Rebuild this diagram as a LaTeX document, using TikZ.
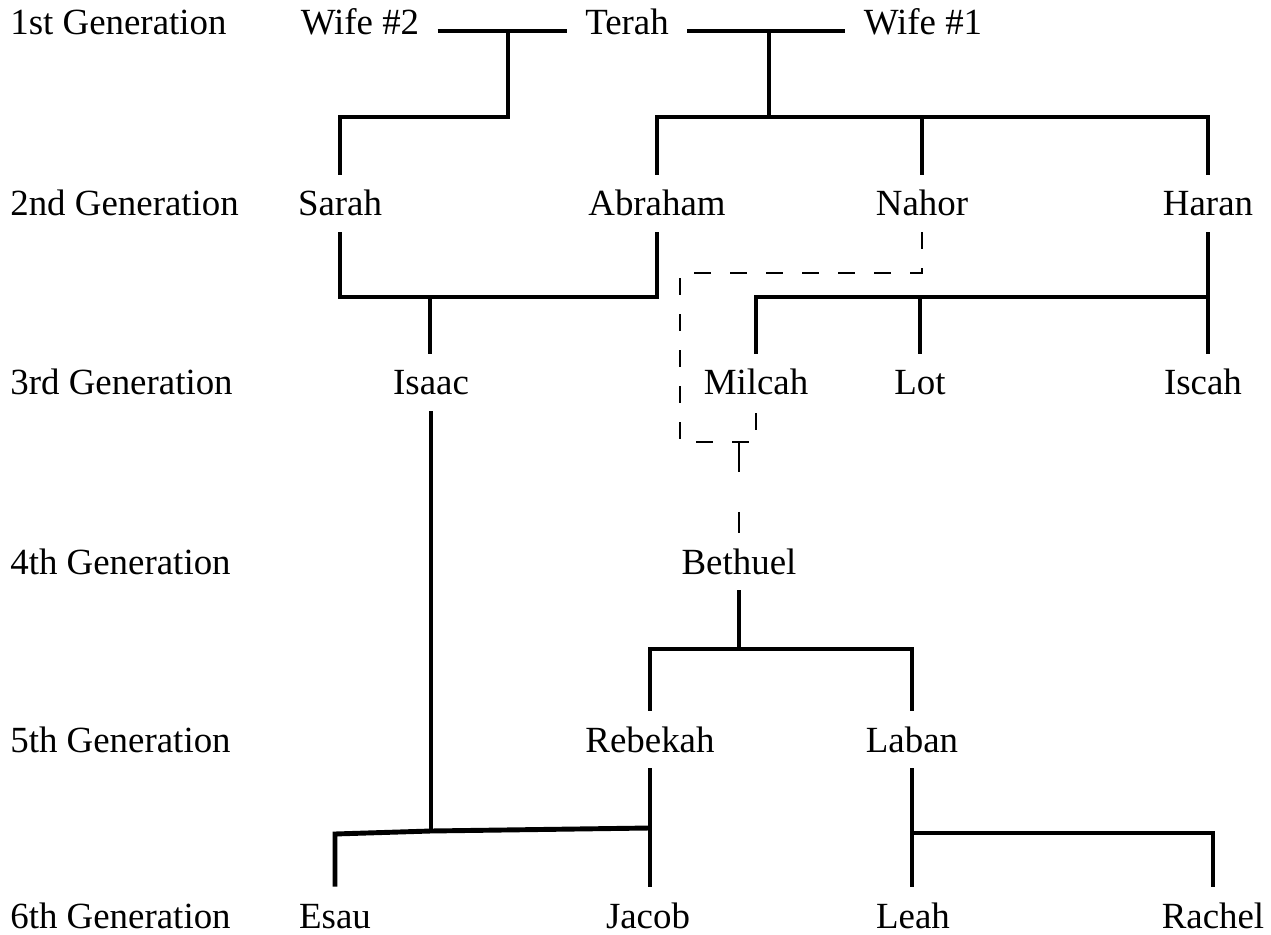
\documentclass[tikz,border=0pt]{standalone}
\usepackage{fontspec}
\setmainfont{Liberation Serif}
\usepackage{tikz}

\tikzset{
    person/.style={font=\fontsize{21}{25}\selectfont, anchor=base, inner xsep=0.36cm, inner ysep=0pt,
                   text height=0.82cm, text depth=0.32cm},
    leaf/.style={person, text depth=0pt},
    gen/.style={font=\fontsize{21}{25}\selectfont, anchor=base west, inner sep=0pt},
    line/.style={line width=2.8pt},
    kin/.style={line width=1.2pt, dash pattern=on 0.34cm off 0.38cm}
}

\begin{document}
\begin{tikzpicture}[x=0.02cm, y=-0.02cm]
    \useasboundingbox (0,0) rectangle (1271,935);

    % Generations
    \node [gen]     (g1)  at (10,35)    {1st Generation};
    \node [gen]     (g2)  at (10,216)   {2nd Generation};
    \node [gen]     (g3)  at (10,395)   {3rd Generation};
    \node [gen]     (g4)  at (10,574)   {4th Generation};
    \node [gen]     (g5)  at (10,752)   {5th Generation};
    \node [gen]     (g6)  at (10,928)   {6th Generation};

    % People {wife2, terah, wife1, sarah, etc}
    \node [person]  (wife2)    at (360,35)    {Wife \#2};
    \node [person]  (terah)    at (627,35)    {Terah};
    \node [person]  (wife1)    at (923,35)    {Wife \#1};
    \node [person]  (sarah)    at (340,216)   {Sarah};
    \node [person]  (abraham)  at (657,216)   {Abraham};
    \node [person]  (nahor)    at (922,216)   {Nahor};
    \node [person]  (haran)    at (1208,216)  {Haran};
    \node [person]  (isaac)    at (431,395)   {Isaac};
    \node [person]  (milcah)   at (756,395)   {Milcah};
    \node [person]  (lot)      at (920,395)   {Lot};
    \node [person]  (iscah)    at (1203,395)  {Iscah};
    \node [person]  (bethuel)  at (739,574)   {Bethuel};
    \node [person]  (rebekah)  at (650,752)   {Rebekah};
    \node [person]  (laban)    at (912,752)   {Laban};
    \node [leaf]    (esau)     at (335,928)   {Esau};
    \node [leaf]    (jacob)    at (648,928)   {Jacob};
    \node [leaf]    (leah)     at (913,928)   {Leah};
    \node [leaf]    (rachel)   at (1213,928)  {Rachel};

    % Junctions
    \coordinate (wj)   at (508,117);
    \coordinate (tj)   at (769,117);
    \coordinate (sj)   at (430,297);
    \coordinate (hj)   at (1209,297);
    \coordinate (dtop) at (680,273);
    \coordinate (dbot) at (680,442);
    \coordinate (bj)   at (739,649);
    \coordinate (ej)   at (335,834);
    \coordinate (ij)   at (431,831);
    \coordinate (rj)   at (650,828);
    \coordinate (lj)   at (913,833);

    % Paths
    \draw [line] (wife2.mid east) -- (terah.mid west);
    \draw [line] (terah.mid east) -- (wife1.mid west);
    \draw [line] (wj |- wife2.mid) -- (wj) -| (sarah.north);
    \draw [line] (tj |- terah.mid) -- (tj);
    \draw [line] (abraham.north) |- (tj) -| (haran.north);
    \draw [line] (nahor.north) -- (nahor.north |- tj);
    \draw [line] (sarah.south) |- (sj) -| (abraham.south);
    \draw [line] (sj) -- (sj |- isaac.north);
    \draw [line] (haran.south) -- (haran.south |- iscah.north);
    \draw [line] (hj) -| (milcah.north);
    \draw [line] (lot.north) -- (lot.north |- hj);
    \draw [kin]  (nahor.south) |- (dtop) -- (dbot) -| (milcah.south);
    \draw [kin, dash pattern=on 0.6cm off 0.8cm] (bethuel.north |- dbot) -- (bethuel.north);
    \draw [line] (bethuel.south) -- (bj);
    \draw [line] (rebekah.north) |- (bj) -| (laban.north);
    \draw [line] (isaac.south) -- (ij);
    \draw [line] (esau.north) -- (ej) -- (ij) -- (rj);
    \draw [line] (rebekah.south) -- (rebekah.south |- jacob.north);
    \draw [line] (laban.south) -- (laban.south |- leah.north);
    \draw [line] (lj) -| (rachel.north);

\end{tikzpicture}
\end{document}
